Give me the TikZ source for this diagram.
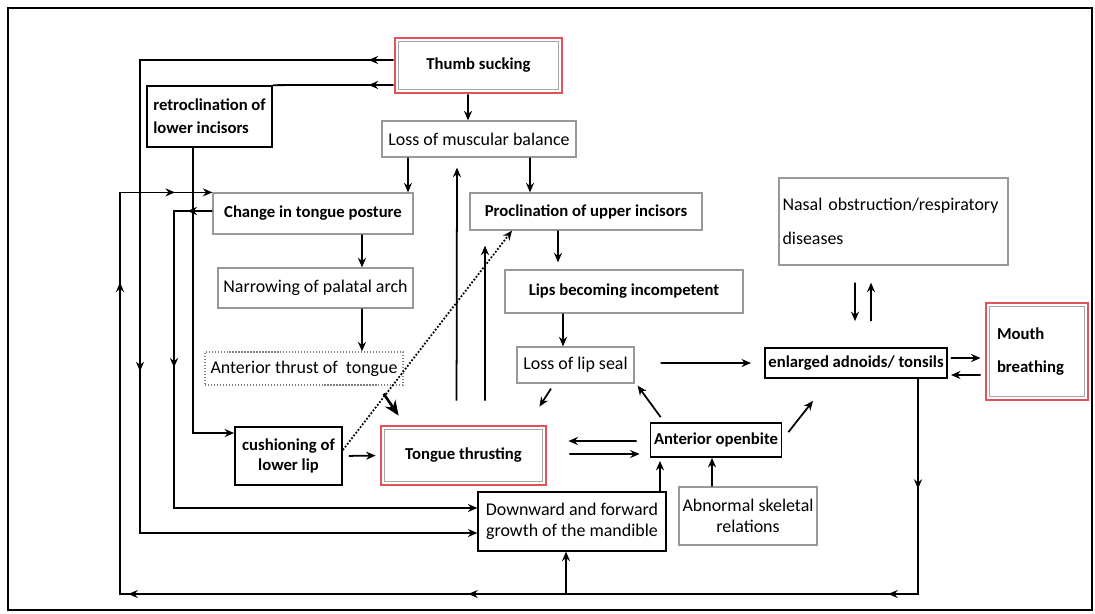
\documentclass[tikz,border=0pt]{standalone}
\usepackage{fontspec}
\setmainfont{Carlito}
\usetikzlibrary{calc, positioning}
\usetikzlibrary{arrows.meta}
\usetikzlibrary{decorations.markings}

\definecolor{hotred}{RGB}{226,82,90}

\tikzset{
  box/.style={draw=gray!80, line width=0.7pt, inner sep=2pt, font=\fontsize{10.2}{12}\selectfont},
  bbox/.style={box, draw=black, line width=1pt, font=\fontsize{9.5}{11}\selectfont\bfseries},
  hot/.style={draw=hotred, line width=1.6pt, inner sep=2pt, font=\fontsize{9.5}{11}\selectfont\bfseries},
  bold/.style={font=\fontsize{9.5}{11}\selectfont\bfseries},
  rail/.style={line width=1pt},
  link/.style={rail, -{Stealth[length=1.9mm,width=1.6mm]}},
  arrowat/.style={postaction={decorate, decoration={markings,
      mark=at position #1 with {\arrow{Stealth[length=1.9mm,width=1.6mm]}}}}}
}

\newcommand{\hotinner}[1]{%
  \draw[gray!70, line width=0.6pt] ([shift={(3pt,3pt)}]#1.south west) rectangle ([shift={(-3pt,-3pt)}]#1.north east);}

\begin{document}
\begin{tikzpicture}[x=0.02cm, y=-0.02cm]
\useasboundingbox (0,0) rectangle (1095,613);
\draw[line width=1.2pt] (8,8) rectangle (1092,610);

% boxes
\node[hot, minimum width=3.34cm, minimum height=1.1cm] (thumb) at (478.5,65.5) {Thumb sucking};
\node[bbox, minimum width=2.5cm, minimum height=1.22cm, align=left] (retro) at (209.5,116.5) {retroclination of\\[2pt]lower incisors};
\node[box, minimum width=3.88cm, minimum height=0.72cm] (lmb) at (479,139) {Loss of muscular balance};
\node[box, bold, minimum width=4cm, minimum height=0.82cm] (ctp) at (313,213.5) {Change in tongue posture};
\node[box, minimum width=3.9cm, minimum height=0.8cm] (narrow) at (315.5,288) {Narrowing of palatal arch};
\node[box, densely dotted, draw=gray, minimum width=3.96cm, minimum height=0.66cm] (ant) at (304,368.5) {Anterior thrust of\ \ tongue};
\node[bbox, minimum width=2.14cm, minimum height=1.16cm, align=center] (cush) at (288.5,456) {cushioning of\\lower lip};
\node[hot, minimum width=3.3cm, minimum height=1.18cm] (tt) at (463.5,455.5) {Tongue thrusting};
\node[box, bold, minimum width=4.64cm, minimum height=0.74cm] (prc) at (586,211.5) {Proclination of upper incisors};
\node[box, bold, minimum width=4.76cm, minimum height=0.86cm] (lips) at (624,291.5) {Lips becoming incompetent};
\node[box, minimum width=2.34cm, minimum height=0.72cm] (lls) at (575.5,365) {Loss of lip seal};
\node[box, text width=4.44cm, minimum height=1.74cm, align=left] (nasal) at (893.5,221.5) {Nasal obstruction/respiratory\\[7pt]diseases};
\node[bbox, minimum width=3.64cm, minimum height=0.6cm] (ead) at (856,363) {enlarged adnoids/ tonsils};
\node[hot, text width=1.6cm, minimum width=2.04cm, minimum height=1.94cm, align=left] (mb) at (1037,351.5) {Mouth\\[8pt]breathing};
\node[bbox, minimum width=2.52cm, minimum height=0.68cm] (aob) at (716,440) {Anterior openbite};
\node[box, minimum width=2.76cm, minimum height=1.16cm, align=center] (ask) at (748,516) {Abnormal skeletal\\relations};
\node[box, draw=black, minimum width=3.76cm, minimum height=1.18cm, align=center] (dfg) at (572,521.5) {Downward and forward\\growth of the mandible};

\hotinner{thumb}
\hotinner{tt}
\hotinner{mb}

\coordinate (floor) at (566,594);

% outer loops
\draw[link, arrowat=0.5cm, arrowat=11.3cm] ([yshift=1.1mm]thumb.west) -| (140,533) -- ([yshift=-2.3mm]dfg.west);
\draw[rail, arrowat=0.5cm] ([yshift=-3.9mm]thumb.west) -- (retro.north east);
\draw[link] ([xshift=-3.3mm]retro.south) |- ([yshift=4.6mm]cush.west);
\draw[link, arrowat=2.2cm, arrowat=4.9cm, arrowat=13.3cm, arrowat=20.1cm, arrowat=26.5cm, arrowat=29.4cm]
  ([xshift=12.4mm]ead.south) |- (120,594) |- (ctp.north west);
\draw[link] (floor) -- (floor |- dfg.south);
\draw[link, arrowat=0.5cm, arrowat=3.9cm] ([yshift=0.5mm]ctp.west) -| (174,508) -- ([yshift=2.7mm]dfg.west);

% left column
\draw[link] ([xshift=-2.1mm]thumb.south) -- ([xshift=-2.2mm]lmb.north);
\draw[link] ([xshift=-14.2mm]lmb.south) -- ([xshift=19mm]ctp.north);
\draw[link] ([xshift=10.2mm]lmb.south) -- ([xshift=-11.2mm]prc.north);
\draw[link] ([xshift=9.8mm]ctp.south) -- ([xshift=9.3mm]narrow.north);
\draw[link] ([xshift=9.3mm]narrow.south) -- ([xshift=11.6mm]ant.north);
\draw[line width=1.5pt, -{Stealth[length=3mm,width=2.5mm]}] ([xshift=-4mm,yshift=-1.6mm]ant.south east) -- ([xshift=3.8mm,yshift=1.8mm]tt.north west);
\draw[link, shorten <=1.2mm, shorten >=0.8mm] (cush.east) -- (tt.west);
\draw[link, densely dotted] ([yshift=1.2mm]cush.east) -- ([xshift=-14.8mm]prc.south);
\draw[link, shorten <=4.8mm, shorten >=2mm] ([xshift=-1.4mm]tt.north) -- ([xshift=-4.4mm]lmb.south);
\draw[link, shorten <=4.8mm, shorten >=3mm] ([xshift=4.3mm]tt.north) -- ([xshift=-20.2mm]prc.south);

% middle column
\draw[link, shorten >=1.4mm] ([xshift=-5.6mm]prc.south) -- ([xshift=-13.2mm]lips.north);
\draw[link] ([xshift=-12.2mm]lips.south) -- ([xshift=-2.5mm]lls.north);
\draw[link] ([xshift=-4.9mm,yshift=-1mm]lls.south) -- ([xshift=-1.6mm,yshift=3.6mm]tt.north east);
\draw[link, shorten <=5.2mm, shorten >=2.6mm] ([yshift=0.4mm]lls.east) -- (ead.west);
\draw[link] ([xshift=2.2mm,yshift=1mm]aob.north west) -- ([xshift=0.6mm,yshift=-0.4mm]lls.south east);
\draw[link] ([xshift=1.2mm,yshift=-2mm]aob.north east) -- ([xshift=-8.6mm,yshift=-4.4mm]ead.south);
\draw[link, shorten <=2.6mm, shorten >=4.2mm] ([yshift=-0.2mm]aob.west) -- ([yshift=2.9mm]tt.east);
\draw[link, shorten <=4.4mm, shorten >=2mm] ([yshift=0.3mm]tt.east) -- ([yshift=-2.8mm]aob.west);
\draw[link, shorten >=0.6mm] ([xshift=17.6mm]dfg.north) -- ([xshift=-11.2mm]aob.south);
\draw[link] ([xshift=-7.2mm]ask.north) -- ([xshift=-0.8mm]aob.south);

% right column
\draw[link, shorten <=3.4mm, shorten >=5.2mm] ([xshift=-7.7mm]nasal.south) -- ([xshift=-0.2mm]ead.north);
\draw[link, shorten <=5.2mm, shorten >=3.4mm] ([xshift=3mm]ead.north) -- ([xshift=-4.5mm]nasal.south);
\draw[link, shorten <=0.6mm, shorten >=0.8mm] ([yshift=1mm]ead.east) -- ([yshift=-1.3mm]mb.west);
\draw[link, shorten <=0.8mm, shorten >=0.6mm] ([yshift=-4.7mm]mb.west) -- ([yshift=-2.4mm]ead.east);
\end{tikzpicture}
\end{document}
